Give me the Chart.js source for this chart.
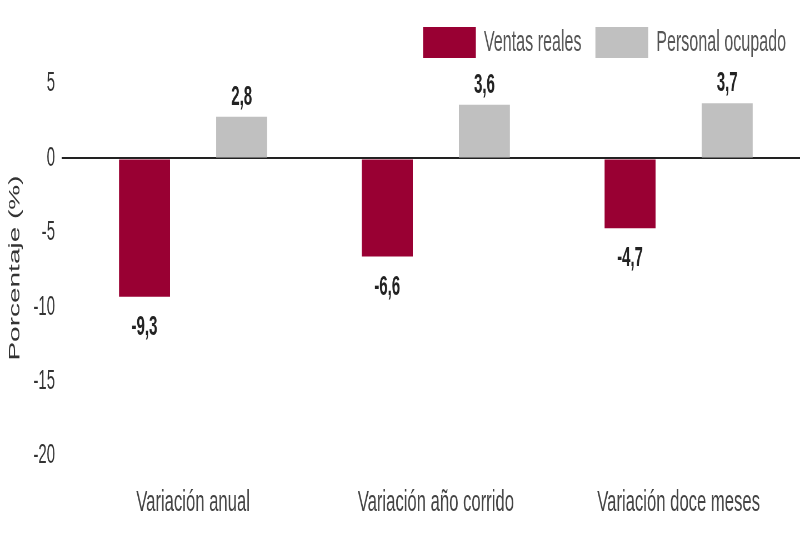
<!DOCTYPE html>
<html>
<head>
<meta charset="utf-8">
<script src="https://cdn.jsdelivr.net/npm/chart.js@4"></script>
<style>
  body{margin:0;background:#fff;overflow:hidden;}
  /* el original tiene el texto muy estrecho: se dibuja a 1440px y se comprime a 800px */
  #wrap{width:1440px;height:533px;transform:scaleX(0.55556);transform-origin:0 0;}
</style>
</head>
<body>
<div id="wrap"><canvas id="chart"></canvas></div>
<script>
const categories = ["Variación anual", "Variación año corrido", "Variación doce meses"];
const ventas = [-9.3, -6.6, -4.7];
const personal = [2.8, 3.6, 3.7];
const seriesNames = ["Ventas reales", "Personal ocupado"];
const yMin = -20, yMax = 5, yStep = 5;

const fam = '"Liberation Sans", Arial, sans-serif';

// etiquetas de valor encima/debajo de cada barra
const valueLabels = {
  id: "valueLabels",
  afterDatasetsDraw(chart){
    const ctx = chart.ctx;
    ctx.save();
    ctx.font = "bold 27px " + fam;
    ctx.fillStyle = "#222";
    ctx.textAlign = "center";
    chart.data.datasets.forEach((ds, i)=>{
      chart.getDatasetMeta(i).data.forEach((bar, j)=>{
        const v = ds.data[j];
        const txt = v.toString().replace(".", ",");
        if(v < 0){ ctx.textBaseline = "top"; ctx.fillText(txt, bar.x, bar.y + 17); }
        else { ctx.textBaseline = "bottom"; ctx.fillText(txt, bar.x, bar.y - 6); }
      });
    });
    ctx.restore();
  }
};

// titulo del eje y
const yTitle = {
  id: "yTitle",
  afterDraw(chart){
    const ctx = chart.ctx;
    ctx.save();
    ctx.translate(27, 268);
    ctx.rotate(-Math.PI/2);
    ctx.font = "28px " + fam;
    ctx.fillStyle = "#333";
    ctx.textAlign = "center";
    ctx.textBaseline = "middle";
    ctx.fillText("Porcentaje (%)", 0, 0);
    ctx.restore();
  }
};

// mas espacio entre la leyenda y el area del grafico
const legendGap = {
  id: "legendGap",
  beforeInit(chart){
    const fit = chart.legend.fit;
    chart.legend.fit = function(){
      fit.bind(chart.legend)();
      this.height += 16;
    };
  }
};

new Chart(document.getElementById("chart"),{
  type:"bar",
  data:{
    labels:categories,
    datasets:[
      {label:seriesNames[0], data:ventas, backgroundColor:"#990033"},
      {label:seriesNames[1], data:personal, backgroundColor:"#c0c0c0"}
    ]
  },
  options:{
    responsive:true,
    maintainAspectRatio:false,
    animation:false,
    datasets:{bar:{categoryPercentage:0.8, barPercentage:0.525}},
    layout:{padding:{left:48, top:2, right:0, bottom:12}},
    plugins:{
      legend:{
        position:"top", align:"end",
        labels:{boxWidth:95, boxHeight:31, padding:25, color:"#555", font:{family:fam, size:29}}
      },
      tooltip:{enabled:false}
    },
    scales:{
      x:{
        grid:{display:false, drawTicks:true, tickLength:29},
        border:{display:false},
        ticks:{color:"#444", padding:0, font:{family:fam, size:30}}
      },
      y:{
        min:yMin, max:yMax,
        border:{display:false},
        grid:{
          color:c=>c.tick && c.tick.value===0 ? "#222" : "rgba(0,0,0,0)",
          lineWidth:2, tickLength:18
        },
        ticks:{stepSize:yStep, color:"#333", padding:12, font:{family:fam, size:27}}
      }
    }
  },
  plugins:[valueLabels, yTitle, legendGap]
});
</script>
</body>
</html>
